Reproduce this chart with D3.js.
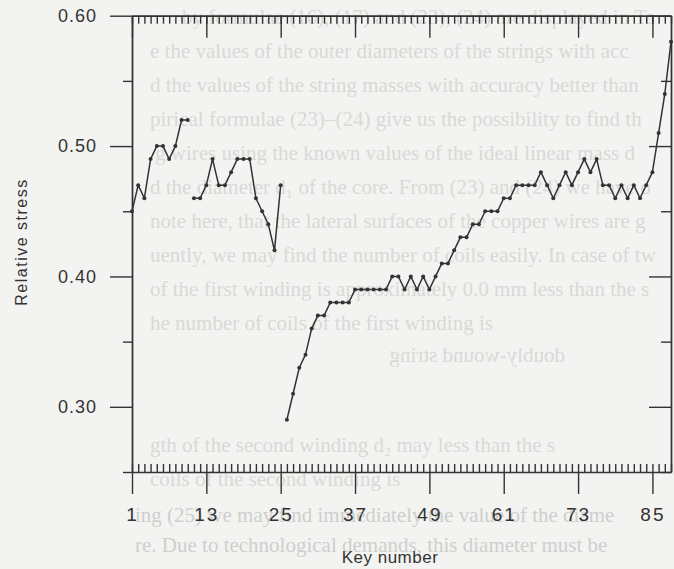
<!DOCTYPE html>
<html>
<head>
<meta charset="utf-8">
<script src="https://cdn.jsdelivr.net/npm/d3@7"></script>
<style>
  html, body { margin: 0; padding: 0; background: #f3f3f1; }
  svg { display: block; }
</style>
</head>
<body>
<div id="main"></div>
<script>
// key numbers on the x axis, relative stress on y
const keyTicks = [1, 13, 25, 37, 49, 61, 73, 85];
const stressTicks = [0.30, 0.40, 0.50, 0.60];
const stressMinor = [0.25, 0.35, 0.45, 0.55];

// three groups of strings, each one starts at its own key
const groupStart = [1, 11, 26];
const stressA = [0.45, 0.47, 0.46, 0.49, 0.50, 0.50, 0.49, 0.50, 0.52, 0.52];
const stressB = [0.46, 0.46, 0.47, 0.49, 0.47, 0.47, 0.48, 0.49, 0.49, 0.49,
                 0.46, 0.45, 0.44, 0.42, 0.47];
const stressC = [0.29, 0.31, 0.33, 0.34, 0.36, 0.37, 0.37, 0.38, 0.38, 0.38,
                 0.38, 0.39, 0.39, 0.39, 0.39, 0.39, 0.39, 0.40, 0.40, 0.39,
                 0.40, 0.39, 0.40, 0.39, 0.40, 0.41, 0.41, 0.42, 0.43, 0.43,
                 0.44, 0.44, 0.45, 0.45, 0.45, 0.46, 0.46, 0.47, 0.47, 0.47,
                 0.47, 0.48, 0.47, 0.46, 0.47, 0.48, 0.47, 0.48, 0.49, 0.48,
                 0.49, 0.47, 0.47, 0.46, 0.47, 0.46, 0.47, 0.46, 0.47, 0.48,
                 0.51, 0.54, 0.58];

// text of the other side of the page that shows through the scan
const showThrough = [
    'by formulae (16), (17) and (23), (24) are displayed in Ta',
    'e the values of the outer diameters of the strings with acc',
    'd the values of the string masses with accuracy better than',
    'pirical formulae (23)\u2013(24) give us the possibility to find th',
    'g wires using the known values of the ideal linear mass d',
    'd the diameter d\u2081 of the core. From (23) and (24) we have o',
    'note here, that the lateral surfaces of the copper wires are g',
    'uently, we may find the number of coils easily. In case of tw',
    'of the first winding is approximately 0.0 mm less than the s',
    'he number of coils of the first winding is'
];
const showThroughLow = [
    'gth of the second winding d\u2082 may less than the s',
    'coils of the second winding is',
    'ing (25) we may find immediately the value of the diame',
    're. Due to technological demands, this diameter must be'
];

const W = 674, H = 569;
const ink = '#333';

const svg = d3.select('#main').append('svg')
    .attr('width', W)
    .attr('height', H);

svg.append('rect').attr('width', W).attr('height', H).attr('fill', '#f3f3f1');

// faint page text behind the chart
const bg = svg.append('g')
    .attr('font-family', '"Liberation Serif", "DejaVu Serif", serif')
    .attr('font-size', 21)
    .attr('fill', '#d9d9d7');
const topX = [182, 150, 150, 150, 155, 150, 150, 150, 150, 150];
showThrough.forEach((t, i) => {
    bg.append('text').attr('x', topX[i]).attr('y', 24 + i * 34).text(t);
});
bg.append('text')
    .attr('transform', 'translate(565,362) scale(-1,1)')
    .text('doubly-wound string');
const lowY = [452, 486, 522, 552];
showThroughLow.forEach((t, i) => {
    bg.append('text').attr('x', i < 2 ? 150 : 135).attr('y', lowY[i])
        .attr('fill', i < 2 ? '#d9d9d7' : '#cfcfcd').text(t);
});

const x = d3.scaleLinear().domain([1, 88]).range([132, 671]);
const y = d3.scaleLinear().domain([0.25, 0.60]).range([472, 15.7]);

const allKeys = d3.range(1, 89);

function styleAxis(g) {
    g.selectAll('path, line').attr('stroke', ink).attr('stroke-width', 1.4);
    g.selectAll('text')
        .attr('fill', ink)
        .attr('font-family', '"Liberation Sans", Arial, sans-serif');
}

// bottom: every key inward, labelled keys outward
svg.append('g')
    .attr('transform', `translate(0,${y(0.25)})`)
    .call(d3.axisBottom(x).tickValues(allKeys).tickSize(-8).tickSizeOuter(0).tickFormat(''))
    .call(styleAxis);
svg.append('g')
    .attr('transform', `translate(0,${y(0.25)})`)
    .call(d3.axisBottom(x).tickValues(keyTicks).tickSize(22).tickSizeOuter(0)
        .tickPadding(14).tickFormat(d3.format('d')))
    .call(styleAxis)
    .call(g => g.select('.domain').remove())
    .call(g => g.selectAll('text').attr('font-size', 19).attr('letter-spacing', 2));

// top: mirror of the bottom, all inward
svg.append('g')
    .attr('transform', `translate(0,${y(0.60)})`)
    .call(d3.axisTop(x).tickValues(allKeys).tickSize(-8).tickSizeOuter(0).tickFormat(''))
    .call(styleAxis);
svg.append('g')
    .attr('transform', `translate(0,${y(0.60)})`)
    .call(d3.axisTop(x).tickValues(keyTicks).tickSize(-22).tickSizeOuter(0).tickFormat(''))
    .call(styleAxis);

// left
svg.append('g')
    .attr('transform', `translate(${x(1)},0)`)
    .call(d3.axisLeft(y).tickValues(stressMinor).tickSize(9).tickSizeOuter(0).tickFormat(''))
    .call(styleAxis);
svg.append('g')
    .attr('transform', `translate(${x(1)},0)`)
    .call(d3.axisLeft(y).tickValues(stressTicks).tickSize(22).tickSizeOuter(0)
        .tickPadding(13).tickFormat(d3.format('.2f')))
    .call(styleAxis)
    .call(g => g.selectAll('text').attr('font-size', 18).attr('letter-spacing', 1));

// right
svg.append('g')
    .attr('transform', `translate(${x(88)},0)`)
    .call(d3.axisRight(y).tickValues(stressMinor).tickSize(-10).tickSizeOuter(0).tickFormat(''))
    .call(styleAxis);
svg.append('g')
    .attr('transform', `translate(${x(88)},0)`)
    .call(d3.axisRight(y).tickValues(stressTicks).tickSize(-22).tickSizeOuter(0).tickFormat(''))
    .call(styleAxis);

// axis titles
svg.append('text')
    .attr('x', 390).attr('y', 563)
    .attr('text-anchor', 'middle')
    .attr('font-family', '"Liberation Sans", Arial, sans-serif')
    .attr('font-size', 17)
    .attr('letter-spacing', 0.5)
    .attr('fill', ink)
    .text('Key number');
svg.append('text')
    .attr('transform', 'translate(27,242) rotate(-90)')
    .attr('text-anchor', 'middle')
    .attr('font-family', '"Liberation Sans", Arial, sans-serif')
    .attr('font-size', 16)
    .attr('letter-spacing', 1.5)
    .attr('fill', ink)
    .text('Relative stress');

// the three curves
const groups = [stressA, stressB, stressC].map((vals, gi) =>
    vals.map((v, i) => ({ key: groupStart[gi] + i, stress: v })));

const line = d3.line().x(d => x(d.key)).y(d => y(d.stress));

const curves = svg.append('g');
groups.forEach(pts => {
    curves.append('path')
        .datum(pts)
        .attr('d', line)
        .attr('fill', 'none')
        .attr('stroke', ink)
        .attr('stroke-width', 1.5)
        .attr('stroke-linejoin', 'round');
    curves.selectAll(null)
        .data(pts)
        .enter()
        .append('circle')
        .attr('cx', d => x(d.key))
        .attr('cy', d => y(d.stress))
        .attr('r', 2)
        .attr('fill', ink);
});
</script>
</body>
</html>
